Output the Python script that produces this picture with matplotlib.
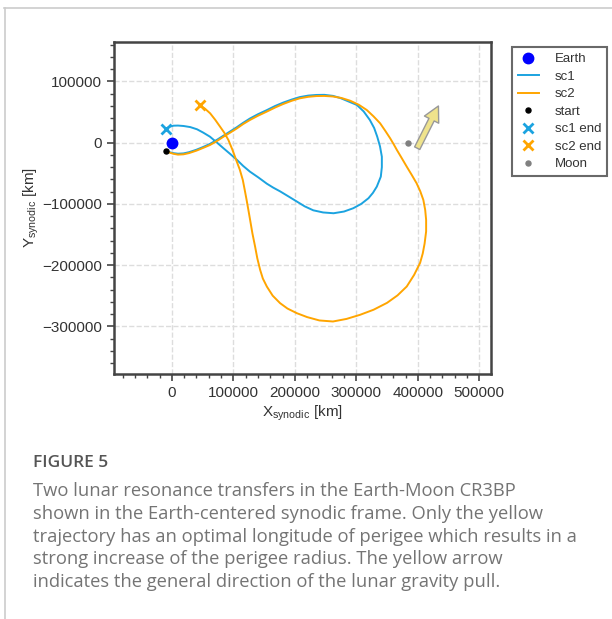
import numpy as np
import matplotlib.pyplot as plt
from matplotlib.lines import Line2D

plt.rcParams['font.family'] = ['Liberation Sans', 'DejaVu Sans']
plt.rcParams['mathtext.fontset'] = 'custom'
plt.rcParams['mathtext.rm'] = 'Liberation Sans'
plt.rcParams['mathtext.it'] = 'Liberation Sans'

# trajectories in the synodic frame, thousand km
sc1_x = [-10, -4, 2, 10, 19, 28, 40, 51, 62, 73, 84, 95, 106, 116, 127, 140, 154, 168,
         181, 195, 208, 222, 235, 248, 262, 274, 287, 301, 312, 322, 329, 334, 338.5,
         341.5, 341.5, 339.8, 333.3, 327, 319.7, 308, 295, 280, 263, 246, 230, 216, 203,
         190, 176, 165, 154.5, 141, 127, 116, 106, 95, 84, 73, 62, 51, 41, 30, 19, 10,
         3, -4, -9.5]
sc1_y = [-13, -15.5, -17, -18, -17.5, -15.5, -11.5, -7, -2, 4.5, 11.5, 18.5, 25.5, 32.5,
         39.5, 46.5, 53, 60, 65.5, 70.5, 74.5, 77, 78, 78.2, 76.5, 73, 67.5, 61.6, 51,
         37.1, 24, 9.8, -6, -22.9, -40, -55.5, -71.8, -82, -90.8, -100, -107.1, -112.5,
         -115.3, -114, -110.5, -104, -96, -88, -79.5, -73.5, -67, -57, -47.3, -38, -28.2,
         -18.5, -9.1, 0.5, 9.8, 16.5, 21.9, 25.5, 27.3, 28, 27.8, 26, 23]

sc2_x = [-10, -4, 2, 10, 19, 28, 40, 51, 62, 73, 84, 95, 106, 116, 127, 140, 154, 168,
         181, 195, 208, 222, 235, 248, 262, 276, 290, 304, 317, 328, 338.7, 347, 355,
         361, 366, 374, 382, 390, 398, 404, 409, 412, 413.5, 413.5, 411, 408, 403.7,
         394, 382, 367, 350, 328, 306, 284, 262, 240, 220, 203, 188, 176, 164, 154.5,
         148, 143.6, 139, 135.4, 131, 127.3, 124.5, 121.6, 118.5, 115.4, 110.5, 104.6,
         98.5, 92, 85.5, 78.5, 70.5, 62.3, 54, 45]
sc2_y = [-13, -16, -18, -19.5, -19, -17, -13, -8.5, -3.8, 2.5, 9.8, 16.5, 23.5, 30.5,
         37.1, 44, 50.6, 57.5, 63.2, 68.5, 72.5, 75, 76.2, 76.4, 75.5, 73, 68.6, 62,
         53.4, 43, 31.7, 19.5, 7.2, -3, -12, -25.5, -39.2, -52.5, -66.3, -79.5, -93.6,
         -110, -126.2, -145, -165, -181, -196.4, -216, -235, -249.5, -261.7, -273,
         -281.3, -288, -292.2, -290.5, -285, -278.5, -271, -262.2, -250, -235.1, -222,
         -207.8, -189, -169.8, -148, -126.2, -110, -93.6, -77, -60.9, -44, -28.2, -11.5,
         4.4, 16, 26.1, 37.5, 48, 55.5, 61.5]

start = (-10, -13)
sc1_end = (-9.5, 23)
sc2_end = (45, 61.5)
moon = (384.4, 0)
pull_from = (399, -9)
pull_to = (433.5, 60)

c_sc1 = '#1ba3e0'
c_sc2 = '#ffa500'

fig = plt.figure(figsize=(6.12, 6.19), dpi=100)
ax = fig.add_axes([0.1863, 0.3958, 0.6155, 0.5363])

k = 1000
ax.plot(0, 0, 'o', color='blue', markersize=7.5, label='Earth', zorder=4)
ax.plot(np.array(sc1_x)*k, np.array(sc1_y)*k, color=c_sc1, lw=1.4, label='sc1')
ax.plot(np.array(sc2_x)*k, np.array(sc2_y)*k, color=c_sc2, lw=1.4, label='sc2')
ax.plot(start[0]*k, start[1]*k, 'o', color='black', markersize=3.6, label='start', zorder=5)
ax.plot(sc1_end[0]*k, sc1_end[1]*k, 'x', color=c_sc1, markersize=7, mew=2, label='sc1 end', zorder=5)
ax.plot(sc2_end[0]*k, sc2_end[1]*k, 'x', color=c_sc2, markersize=7, mew=2, label='sc2 end', zorder=5)
ax.plot(moon[0]*k, moon[1]*k, 'o', color='gray', markersize=3.6, label='Moon', zorder=5)

ax.annotate('', xy=(pull_to[0]*k, pull_to[1]*k), xytext=(pull_from[0]*k, pull_from[1]*k),
            arrowprops=dict(facecolor='#efe38c', edgecolor='#999999', lw=1,
                            width=4.2, headwidth=11.5, headlength=11, shrink=0))

ax.set_xlim(-94000, 518500)
ax.set_ylim(-378000, 164500)
ax.set_xticks([0, 100000, 200000, 300000, 400000, 500000])
ax.set_yticks([-300000, -200000, -100000, 0, 100000])
ax.set_xticks(np.arange(-80000, 520000, 20000), minor=True)
ax.set_yticks(np.arange(-360000, 164000, 20000), minor=True)
ax.grid(True, which='major', ls='--', color='#dddddd', lw=1)
ax.set_axisbelow(True)
ax.tick_params(which='major', direction='out', length=5, width=1.2, color='#444444',
               labelsize=11, labelcolor='#333333')
ax.tick_params(which='minor', direction='out', length=3, width=1, color='#444444')
for s in ax.spines.values():
    s.set_color('#444444')
    s.set_linewidth(1.8)

ax.set_xlabel('X$_{\\mathrm{synodic}}$ [km]', fontsize=11, color='#333333', labelpad=3)
ax.set_ylabel('Y$_{\\mathrm{synodic}}$ [km]', fontsize=11, color='#333333', labelpad=1)

leg = ax.legend(loc='upper left', bbox_to_anchor=(0.8366, 0.924), bbox_transform=fig.transFigure,
                borderaxespad=0, fontsize=9.5, frameon=True, fancybox=False,
                edgecolor='#444444', handlelength=1.6, handletextpad=1.2,
                labelspacing=0.4, borderpad=0.45)
leg.get_frame().set_linewidth(1.5)
for t in leg.get_texts():
    t.set_color('#333333')

# page frame lines
fig.add_artist(Line2D([4.5/612, 4.5/612], [0, 1 - 8/619], color='#cccccc', lw=1.2,
                      transform=fig.transFigure))
fig.add_artist(Line2D([4/612, 1], [1 - 8/619, 1 - 8/619], color='#cccccc', lw=1.2,
                      transform=fig.transFigure))

caption = ['Two lunar resonance transfers in the Earth-Moon CR3BP',
           'shown in the Earth-centered synodic frame. Only the yellow',
           'trajectory has an optimal longitude of perigee which results in a',
           'strong increase of the perigee radius. The yellow arrow',
           'indicates the general direction of the lunar gravity pull.']
fig.text(33/612, 1 - 463/619, 'FIGURE 5', fontsize=12.5, fontweight='semibold',
         family='Open Sans', color='#555555', va='center')
for i, line in enumerate(caption):
    fig.text(33/612, 1 - (491 + i*22.8)/619, line, fontsize=13.2, family='Open Sans',
             color='#747474', va='center')

fig.savefig('out.png', dpi=100)
